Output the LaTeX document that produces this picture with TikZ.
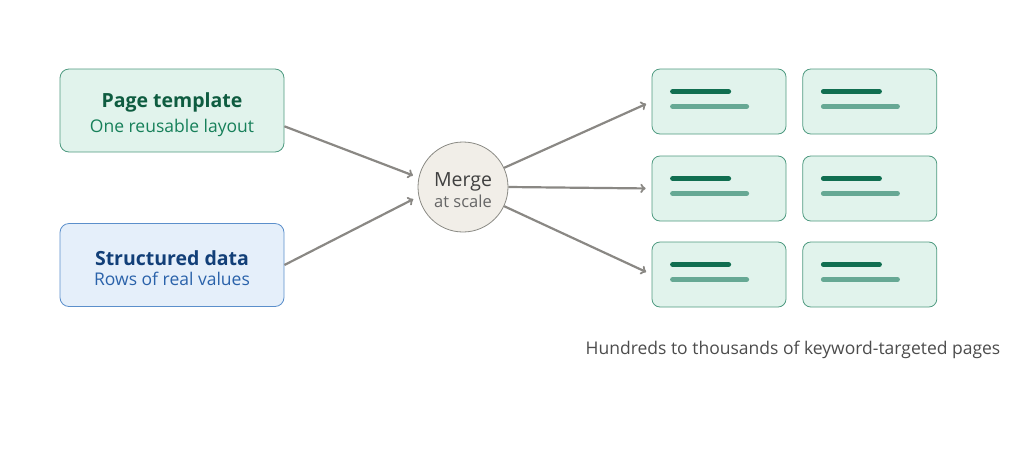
\documentclass[tikz,border=0pt]{standalone}
\usepackage{fontspec}
\setmainfont{Open Sans}
\usetikzlibrary{arrows,positioning}
\definecolor{tmplfill}{HTML}{E1F3EC}
\definecolor{tmpldraw}{HTML}{4E9A80}
\definecolor{tmpltext}{HTML}{0E5C40}
\definecolor{tmplsub}{HTML}{17805A}
\definecolor{datafill}{HTML}{E5EFFA}
\definecolor{datadraw}{HTML}{5B8FCB}
\definecolor{datatext}{HTML}{123F78}
\definecolor{datasub}{HTML}{2A62AA}
\definecolor{mergefill}{HTML}{F1EEE8}
\definecolor{mergedraw}{HTML}{8A8A84}
\definecolor{arrowgray}{HTML}{8A8884}
\definecolor{linedark}{HTML}{106E50}
\definecolor{linelight}{HTML}{66A894}
\tikzset{
  src/.style={rounded corners=9pt,minimum width=224pt,minimum height=83pt,line width=0.8pt},
  card/.style={rounded corners=8pt,minimum width=134pt,minimum height=65pt,fill=tmplfill,draw=tmpldraw,line width=0.8pt},
  flow/.style={->,>=to,draw=arrowgray,line width=2.2pt,shorten >=6pt}
}
\begin{document}
\begin{tikzpicture}[x=1pt,y=1pt]
\useasboundingbox (0,0) rectangle (1024,-448);
\node[src,fill=tmplfill,draw=tmpldraw](tmpl)at(172,-110.5){};
\node[align=center](tmpltxt)at(172,-115){{\fontsize{19.5}{23}\selectfont\bfseries\color{tmpltext}Page template}\\[6pt]{\fontsize{17.5}{21}\selectfont\color{tmplsub}One reusable layout}};
\node[src,fill=datafill,draw=datadraw](data)at(172,-265){};
\node[align=center](datatxt)at(172,-268){{\fontsize{19.5}{23}\selectfont\bfseries\color{datatext}Structured data}\\[6pt]{\fontsize{17.5}{21}\selectfont\color{datasub}Rows of real values}};
\node[circle,minimum size=90pt,inner sep=0pt,fill=mergefill,draw=mergedraw,line width=0.8pt](merge)at(463,-187){};
\node[align=center](mergetxt)at(463,-190){{\fontsize{19.5}{22}\selectfont\color{black!75}Merge}\\[3pt]{\fontsize{16.5}{19}\selectfont\color{black!60}at scale}};
\foreach \r/\y in {1/-101.5,2/-188.5,3/-274.5}{
  \node[card](c\r a)at(719,\y){};
  \node[card,right=16pt of c\r a](c\r b){};
  \foreach \c in {a,b}{
    \draw[linedark,line width=5pt,line cap=round]([xshift=21pt,yshift=10pt]c\r\c.west)--++(56,0);
    \draw[linelight,line width=5pt,line cap=round]([xshift=21pt,yshift=-5pt]c\r\c.west)--++(74,0);
  }
}
\node[font=\fontsize{17.5}{21}\selectfont,text=black!70](caption)at(793,-350){Hundreds to thousands of keyword-targeted pages};
\draw[flow](tmpl.-8) -- (merge.168);
\draw[flow](data.east) -- (merge.192);
\draw[flow](merge.25) -- (c1a.west);
\draw[flow](merge.0) -- (c2a.west);
\draw[flow](merge.-25) -- (c3a.west);
\end{tikzpicture}
\end{document}
